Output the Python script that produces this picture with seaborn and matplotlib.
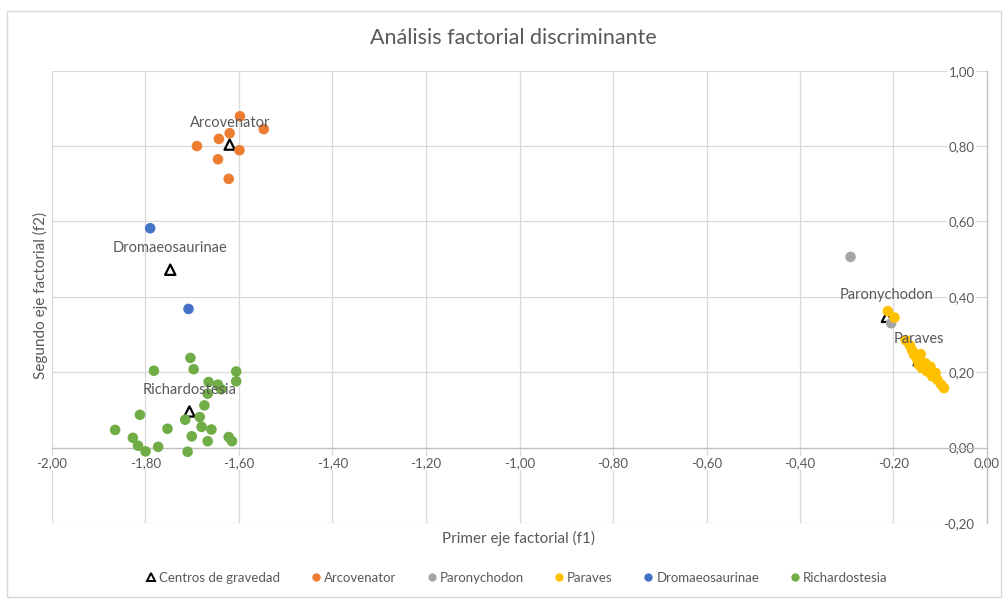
import numpy as np
import pandas as pd
import matplotlib
matplotlib.use("Agg")
import matplotlib.pyplot as plt
from matplotlib.lines import Line2D
from matplotlib.patches import Rectangle
from matplotlib.ticker import FuncFormatter, MultipleLocator
import seaborn as sns

# ---------------- data ----------------
groups = ["Arcovenator", "Paronychodon", "Paraves", "Dromaeosaurinae", "Richardostesia"]
colors = ["#ED7D31", "#A5A5A5", "#FFC000", "#4472C4", "#70AD47"]

arco_x = [-1.598, -1.547, -1.620, -1.643, -1.690, -1.599, -1.645, -1.622]
arco_y = [0.879, 0.845, 0.834, 0.819, 0.800, 0.789, 0.765, 0.713]

paro_x = [-0.292, -0.205]
paro_y = [0.506, 0.330]

para_x = [-0.212, -0.198, -0.174, -0.165, -0.160, -0.156, -0.149, -0.142, -0.146,
          -0.139, -0.132, -0.128, -0.121, -0.117, -0.110, -0.106, -0.098, -0.092]
para_y = [0.362, 0.345, 0.285, 0.271, 0.258, 0.246, 0.233, 0.248, 0.220,
          0.211, 0.224, 0.202, 0.215, 0.189, 0.198, 0.180, 0.167, 0.158]

drom_x = [-1.790, -1.708]
drom_y = [0.582, 0.368]

rich_x = [-1.704, -1.697, -1.782, -1.606, -1.606, -1.665, -1.645, -1.638, -1.667,
          -1.674, -1.812, -1.684, -1.715, -1.680, -1.753, -1.659, -1.865, -1.827,
          -1.622, -1.701, -1.816, -1.667, -1.615, -1.773, -1.800, -1.710]
rich_y = [0.238, 0.208, 0.204, 0.202, 0.176, 0.174, 0.167, 0.155, 0.143,
          0.112, 0.087, 0.081, 0.074, 0.055, 0.050, 0.048, 0.047, 0.026,
          0.028, 0.030, 0.005, 0.017, 0.017, 0.002, -0.010, -0.011]

cent_names = ["Arcovenator", "Paronychodon", "Paraves", "Dromaeosaurinae", "Richardostesia"]
cent_x = [-1.620, -0.214, -0.146, -1.747, -1.706]
cent_y = [0.804, 0.347, 0.232, 0.472, 0.096]

title = "Análisis factorial discriminante"
xlabel = "Primer eje factorial (f1)"
ylabel = "Segundo eje factorial (f2)"
centroid_label = "Centros de gravedad"

# ---------------- build frame ----------------
xs = [arco_x, paro_x, para_x, drom_x, rich_x]
ys = [arco_y, paro_y, para_y, drom_y, rich_y]
frames = []
for g, xx, yy in zip(groups, xs, ys):
    frames.append(pd.DataFrame({"f1": xx, "f2": yy, "grupo": g}))
df = pd.concat(frames, ignore_index=True)
cdf = pd.DataFrame({"f1": cent_x, "f2": cent_y, "grupo": cent_names})

# ---------------- style ----------------
sns.set_theme(style="white")
plt.rcParams["font.family"] = ["Lato", "DejaVu Sans"]
TXT = "#595959"
GRID = "#D9D9D9"
AXC = "#BFBFBF"

fig = plt.figure(figsize=(10.06, 6.03), dpi=100)
ax = fig.add_axes([52 / 1006, 1 - 523 / 603, (987 - 52) / 1006, (523 - 70.7) / 603])

# chart border
fig.patches.append(Rectangle((7 / 1006, 6 / 603), 994 / 1006, 586 / 603,
                             transform=fig.transFigure, fill=False,
                             edgecolor=GRID, linewidth=1.0))

# centroids (drawn first, under the points)
sns.scatterplot(data=cdf, x="f1", y="f2", marker="^", s=55, ax=ax,
                legend=False, zorder=2)
coll = ax.collections[-1]
coll.set_facecolor("none")
coll.set_edgecolor("black")
coll.set_linewidth(1.6)

# group points, each series drawn in order
sns.scatterplot(data=df, x="f1", y="f2", hue="grupo", hue_order=groups,
                palette=colors, s=58, edgecolor="none", linewidth=0,
                ax=ax, legend=False, zorder=3)

# data labels for the centroids
for n, cx, cy in zip(cent_names, cent_x, cent_y):
    ax.annotate(n, (cx, cy), xytext=(0, 15.5), textcoords="offset points",
                ha="center", va="center", fontsize=10.5, color=TXT, zorder=5)

# ---------------- axes ----------------
ax.set_xlim(-2.0, 0.0)
ax.set_ylim(-0.2, 1.0)
ax.xaxis.set_major_locator(MultipleLocator(0.2))
ax.yaxis.set_major_locator(MultipleLocator(0.2))
fmt = FuncFormatter(lambda v, p: f"{v:.2f}".replace(".", ",").replace("-0,00", "0,00"))
ax.xaxis.set_major_formatter(fmt)
ax.yaxis.set_major_formatter(fmt)

ax.grid(True, color=GRID, linewidth=0.9)
ax.set_axisbelow(True)

for s in ["top", "right"]:
    ax.spines[s].set_visible(False)
ax.spines["left"].set_position(("data", 0.0))
ax.spines["bottom"].set_position(("data", 0.0))
for s in ["left", "bottom"]:
    ax.spines[s].set_color(AXC)
    ax.spines[s].set_linewidth(0.9)
    ax.spines[s].set_zorder(1)

ax.tick_params(axis="both", which="both", direction="out", length=4,
               color=AXC, width=0.9, labelsize=9.5, labelcolor=TXT, pad=3)
ax.tick_params(axis="y", pad=5)
for lab in ax.get_yticklabels() + ax.get_xticklabels():
    lab.set_bbox(dict(facecolor="white", edgecolor="none", pad=0.8))

ax.set_xlabel("")
ax.set_ylabel("")
fig.text(518 / 1006, 1 - 538 / 603, xlabel, ha="center", va="center",
         fontsize=11, color=TXT)
fig.text(40 / 1006, 1 - 295 / 603, ylabel, ha="center", va="center",
         rotation=90, fontsize=11, color=TXT)
fig.text(513 / 1006, 1 - 38 / 603, title, ha="center", va="center",
         fontsize=15.5, color=TXT)

# ---------------- legend ----------------
handles = [Line2D([0], [0], marker="^", linestyle="none", markersize=6,
                  markerfacecolor="none", markeredgecolor="black",
                  markeredgewidth=1.4, label=centroid_label)]
for g, c in zip(groups, colors):
    handles.append(Line2D([0], [0], marker="o", linestyle="none", markersize=6,
                          markerfacecolor=c, markeredgecolor="none", label=g))
leg = fig.legend(handles=handles, loc="center", ncol=6,
                 bbox_to_anchor=(516 / 1006, 1 - 578 / 603), frameon=False,
                 fontsize=9.5, handletextpad=0.1, columnspacing=2.2,
                 handlelength=1.0, labelcolor=TXT)

fig.savefig("out.png", dpi=100)
